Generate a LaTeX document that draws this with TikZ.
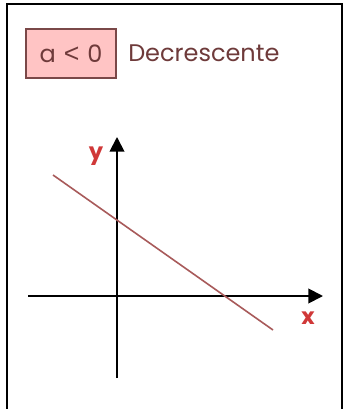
\documentclass[tikz,border=0pt]{standalone}
\usepackage{fontspec}
\setmainfont{Poppins}
\newfontfamily\symfont{Liberation Sans}
\usetikzlibrary{arrows.meta}
\definecolor{boxfill}{HTML}{FFC4C4}
\definecolor{boxdraw}{HTML}{7A4848}
\definecolor{txtc}{HTML}{6E3A3A}
\definecolor{linec}{HTML}{A85A5A}
\definecolor{labc}{HTML}{D03838}
\tikzset{
  frameline/.style={line width=1.6pt, black},
  axis/.style={line width=1.4pt, black, -{Triangle[length=11pt,width=11pt]}},
  lbl/.style={font=\fontsize{17}{17}\selectfont\bfseries, text=labc, inner sep=0pt},
  condbox/.style={draw=boxdraw, fill=boxfill, line width=1pt, minimum width=67.5pt, minimum height=36.75pt, inner sep=0pt, text=txtc, font=\fontsize{18}{18}\selectfont},
  desc/.style={text=txtc, font=\fontsize{18}{18}\selectfont, inner sep=0pt, anchor=west}
}
\begin{document}
\begin{tikzpicture}[x=0.75pt,y=-0.75pt]
\useasboundingbox (0,0) rectangle (343,409);
\fill[white] (0,0) rectangle (343,409);
\coordinate (f1) at (7,409);
\coordinate (f2) at (7,4);
\coordinate (f3) at (342,4);
\coordinate (f4) at (342,409);
\draw[frameline] (f1) -- (f2) -- (f3) -- (f4);
\node[condbox] (cond) at (71,53.5) {a\hspace{6pt}{\symfont\fontsize{20}{20}\selectfont <}\hspace{6pt}0};
\node[desc] (dec) at (128,53.5) {Decrescente};
\coordinate (ylo) at (117,378);
\coordinate (yhi) at (117,137);
\coordinate (xlo) at (28,296);
\coordinate (xhi) at (323,296);
\draw[axis] (ylo) -- (yhi);
\draw[axis] (xlo) -- (xhi);
\node[lbl] (ylab) at (96,156) {y};
\node[lbl] (xlab) at (308,318) {x};
\coordinate (l1) at (53,175);
\coordinate (l2) at (273,330);
\draw[linec, line width=1.2pt] (l1) -- (l2);
\end{tikzpicture}
\end{document}
